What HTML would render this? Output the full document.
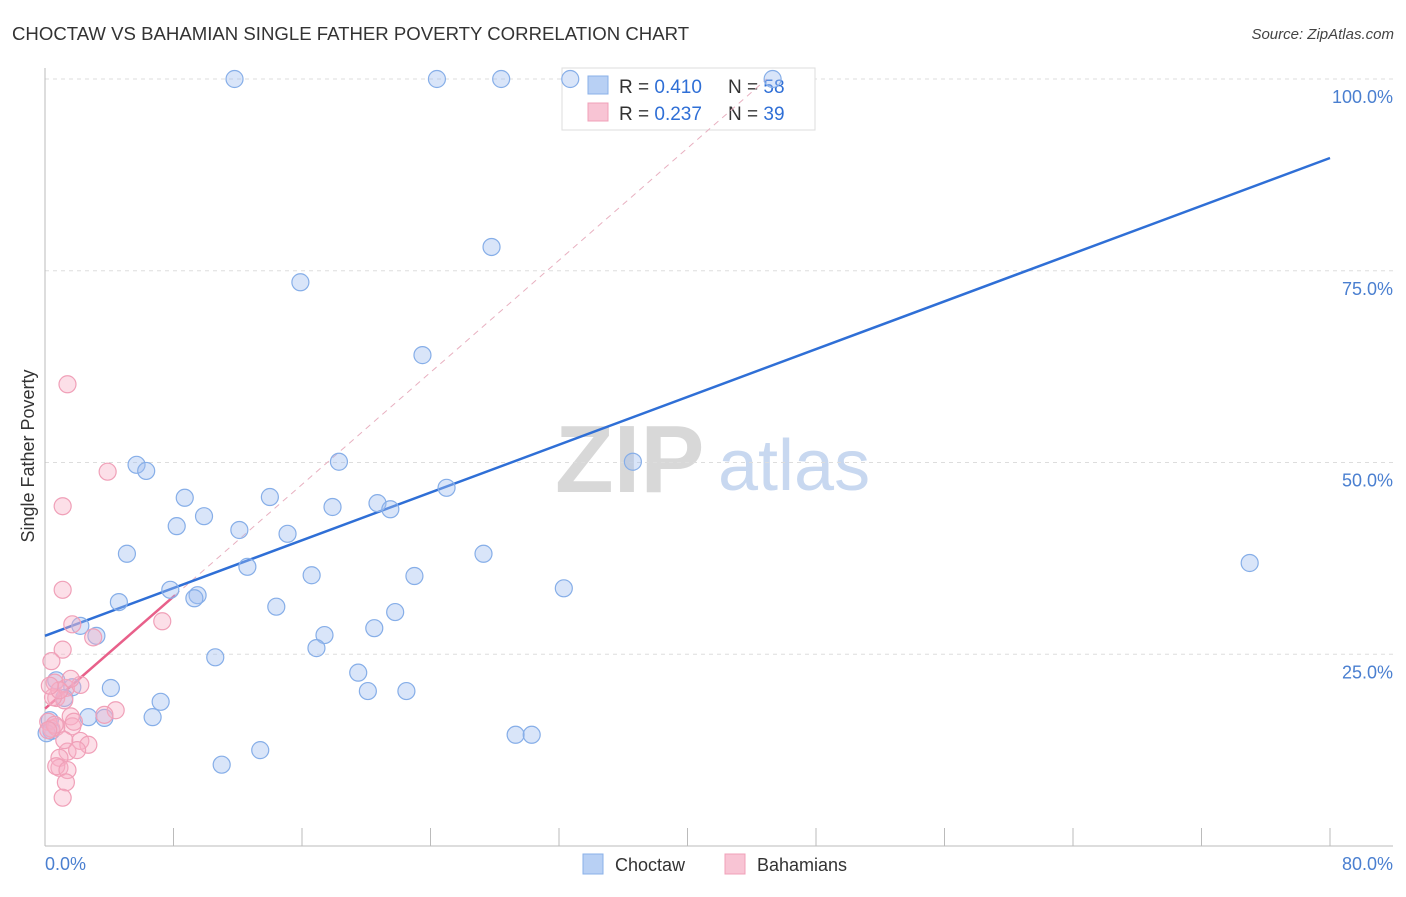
<!DOCTYPE html>
<html><head><meta charset="utf-8"><style>
body{margin:0;background:#fff;font-family:"Liberation Sans",sans-serif;}
svg text{font-family:"Liberation Sans",sans-serif;}
</style></head><body>
<svg id="chart" width="1406" height="892" xmlns="http://www.w3.org/2000/svg">
<text x="12" y="40" font-size="18.6" fill="#333">CHOCTAW VS BAHAMIAN SINGLE FATHER POVERTY CORRELATION CHART</text>
<text x="1394" y="39" font-size="15" fill="#444" text-anchor="end" font-style="italic">Source: ZipAtlas.com</text>
<g>
<text x="555" y="492" font-size="96" fill="#d8d8d8" font-family="Liberation Serif" font-weight="bold">ZIP</text>
<text x="718" y="490" font-size="72" fill="#c8d8f0">atlas</text>
</g>
<g id="grid"></g>
<g id="axes"></g>
<g>
<rect x="562" y="68" width="253" height="62" fill="#fff" stroke="#ddd"/>
<rect x="588" y="76" width="20" height="18" fill="#b8d0f4" stroke="#8ab0e8"/>
<text x="619" y="93" font-size="19" fill="#333">R = <tspan fill="#2f6fd6">0.410</tspan></text>
<text x="728" y="93" font-size="19" fill="#333">N = <tspan fill="#2f6fd6">58</tspan></text>
<rect x="588" y="103" width="20" height="18" fill="#f8c4d4" stroke="#f0a0b8"/>
<text x="619" y="120" font-size="19" fill="#333">R = <tspan fill="#2f6fd6">0.237</tspan></text>
<text x="728" y="120" font-size="19" fill="#333">N = <tspan fill="#2f6fd6">39</tspan></text>
</g>
<g id="lines"></g>
<g id="points"></g>
<text transform="translate(34,456) rotate(-90)" font-size="18" fill="#333" text-anchor="middle">Single Father Poverty</text>
<text x="45" y="870" font-size="18" fill="#4a7fd0">0.0%</text>
<text x="1393" y="870" font-size="18" fill="#4a7fd0" text-anchor="end">80.0%</text>
<g>
<rect x="583" y="854" width="20" height="20" fill="#b8d0f4" stroke="#8ab0e8"/>
<text x="615" y="871" font-size="18" fill="#333">Choctaw</text>
<rect x="725" y="854" width="20" height="20" fill="#f8c4d4" stroke="#f0a0b8"/>
<text x="757" y="871" font-size="18" fill="#333">Bahamians</text>
</g>
</svg>
<script>
const choctawX=[11.8,24.4,28.4,32.7,45.3,27.8,15.9,23.5,5.7,6.3,18.3,36.6,8.7,14.0,8.2,9.9,12.1,15.1,20.7,21.5,17.9,25.0,5.1,27.3,12.6,16.6,23.0,7.8,9.5,9.3,4.6,14.4,21.8,32.3,75.0,2.2,3.2,17.4,20.5,16.9,10.6,19.5,20.1,22.5,4.1,1.7,0.7,1.2,7.2,2.7,3.7,6.7,0.3,0.4,0.1,29.3,30.3,13.4,11.0];
const choctawY=[100,100,100,100,100,78.1,73.5,64.0,49.7,48.9,50.1,50.1,45.4,45.5,41.7,43.0,41.2,40.7,44.7,43.9,44.2,46.7,38.1,38.1,36.4,35.3,35.2,33.4,32.7,32.3,31.8,31.2,30.5,33.6,36.9,28.7,27.4,27.5,28.4,25.8,24.6,22.6,20.2,20.2,20.6,20.7,21.6,19.3,18.8,16.8,16.7,16.8,16.4,15.0,14.7,14.5,14.5,12.5,10.6];
const bahamiansX=[1.4,3.9,1.1,1.1,7.3,1.7,3.0,1.1,0.4,0.6,1.3,2.2,1.6,0.7,1.2,0.5,4.4,3.7,1.6,1.7,0.2,0.4,0.7,2.2,2.7,1.4,2.0,0.9,0.9,0.7,1.4,1.3,1.1,0.6,0.9,0.3,1.8,0.2,1.2];
const bahamiansY=[60.2,48.8,44.3,33.4,29.3,28.9,27.2,25.6,24.1,21.3,20.6,21.0,21.8,19.3,19.0,19.4,17.7,17.1,16.9,15.6,16.2,15.3,15.5,13.7,13.2,12.3,12.5,11.5,10.2,10.4,9.9,8.3,6.3,15.8,20.3,20.9,16.2,15.1,13.8];
const yTicks=[25,50,75,100];
const xTicks=[0,8,16,24,32,40,48,56,64,72,80];
const choctawFit=[27.4,89.7];
const bahamiansFit=[17.9,32.7];
const bahamiansFitEnd=8.1;

const NS="http://www.w3.org/2000/svg";
const sx=v=>45+v*(1285/80);
const sy=v=>846-v*7.67;
function mk(tag,attrs,parent){const e=document.createElementNS(NS,tag);for(const k in attrs)e.setAttribute(k,attrs[k]);parent.appendChild(e);return e;}
const grid=document.getElementById('grid'),axes=document.getElementById('axes'),lines=document.getElementById('lines'),pts=document.getElementById('points');
yTicks.forEach(t=>{
 const l=mk('line',{x1:45,x2:1393,y1:sy(t),y2:sy(t),stroke:'#ddd','stroke-dasharray':'4,4'},grid);
 
 
 const tx=mk('text',{x:1393,y:sy(t)+24,'font-size':18,fill:'#4a7fd0','text-anchor':'end'},grid);
 tx.textContent=t.toFixed(1)+'%';
 
 
});
const ax=mk('line',{x1:45,x2:1393,y1:846,y2:846,stroke:'#bbb'},axes);


const ay=mk('line',{x1:45,x2:45,y1:68,y2:846,stroke:'#bbb'},axes);


xTicks.forEach(t=>{
 const l=mk('line',{x1:sx(t),x2:sx(t),y1:828,y2:846,stroke:'#bbb'},axes);
 
 
});
const slope=(bahamiansFit[1]-bahamiansFit[0])/bahamiansFitEnd;
const xEnd=(100-bahamiansFit[0])/slope;
const dl=mk('line',{x1:sx(bahamiansFitEnd),y1:sy(bahamiansFit[1]),x2:sx(xEnd),y2:sy(100),stroke:'#e8b0c0','stroke-dasharray':'6,5','stroke-width':1},lines);


function drawPts(X,Y,fill,stroke,name){
 X.forEach((x,i)=>{
  const c=mk('circle',{cx:sx(x),cy:sy(Y[i]),r:8.5,fill:fill,stroke:stroke,'stroke-width':1.2},pts);
  
  
 });
}
drawPts(choctawX,choctawY,'rgba(160,190,240,0.4)','#86aee8','choctaw-point');
drawPts(bahamiansX,bahamiansY,'rgba(248,175,198,0.4)','#f0a0b8','bahamians-point');
const bl=mk('line',{x1:sx(0),y1:sy(choctawFit[0]),x2:sx(80),y2:sy(choctawFit[1]),stroke:'#2f6fd6','stroke-width':2.5},lines);


const pl=mk('line',{x1:sx(0),y1:sy(bahamiansFit[0]),x2:sx(bahamiansFitEnd),y2:sy(bahamiansFit[1]),stroke:'#e8608a','stroke-width':2.5},lines);


</script>
</body></html>
